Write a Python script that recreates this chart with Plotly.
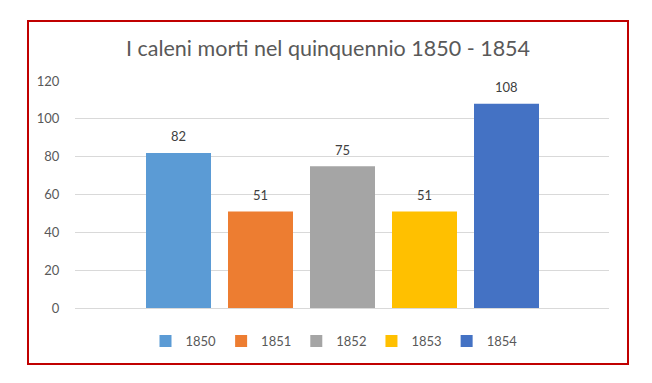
import plotly.graph_objects as go

years = ["1850", "1851", "1852", "1853", "1854"]
deaths = [82, 51, 75, 51, 108]
colors = ["#5B9BD5", "#ED7D31", "#A5A5A5", "#FFC000", "#4472C4"]
title = "I caleni morti nel quinquennio 1850 - 1854"
y_ticks = [0, 20, 40, 60, 80, 100, 120]

FONT = "Lato"
OFF = 8  # browser body margin
W, H = 652 - OFF, 383 - OFF
L, R, T, B = 75 - OFF, 43, 81 - OFF, 75
pw, ph = W - L - R, H - T - B

fig = go.Figure()
for i, (yr, v, c) in enumerate(zip(years, deaths, colors)):
    fig.add_trace(go.Bar(x=[i], y=[v], name=yr, marker=dict(color=c, line=dict(width=0)),
                         width=65 / 82, hoverinfo="skip"))
    fig.add_annotation(x=i, y=v, text=str(v), showarrow=False, yshift=16.5, yanchor="middle",
                       font=dict(family=FONT, size=13, color="#404040"))

def px_x(p):
    return (p - OFF - L) / pw

def px_y(p):
    return (H - B - (p - OFF)) / ph

fig.add_shape(type="rect", xref="paper", yref="paper",
              x0=px_x(28), x1=px_x(628), y0=px_y(364), y1=px_y(21),
              line=dict(color="#C00000", width=2), fillcolor="rgba(0,0,0,0)", layer="above")

fig.update_layout(
    width=W, height=H,
    margin=dict(l=L, r=R, t=T, b=B),
    paper_bgcolor="white", plot_bgcolor="white",
    barmode="overlay",
    title=dict(text=title, x=(328 - OFF) / W, xref="container", xanchor="center",
               y=1 - (48 - OFF) / H, yanchor="middle",
               font=dict(family=FONT, size=21.5, color="#595959")),
    xaxis=dict(range=[(75 - 178.5) / 82, (609 - 178.5) / 82], showticklabels=False, showgrid=False,
               zeroline=False, showline=False, fixedrange=True),
    yaxis=dict(range=[0, 120], tickvals=y_ticks, showgrid=True, gridcolor="#D9D9D9", gridwidth=1,
               zeroline=True, zerolinecolor="#D9D9D9", zerolinewidth=1, showline=False,
               ticks="outside", ticklen=12, tickcolor="rgba(0,0,0,0)",
               tickfont=dict(family=FONT, size=13, color="#595959")),
    showlegend=True,
    legend=dict(orientation="h", x=px_x(334), xanchor="center", xref="paper", y=px_y(341), yanchor="middle",
                font=dict(family=FONT, size=13, color="#595959"), itemwidth=30,
                traceorder="normal", bgcolor="rgba(0,0,0,0)"),
)

fig.write_html("out.html")
